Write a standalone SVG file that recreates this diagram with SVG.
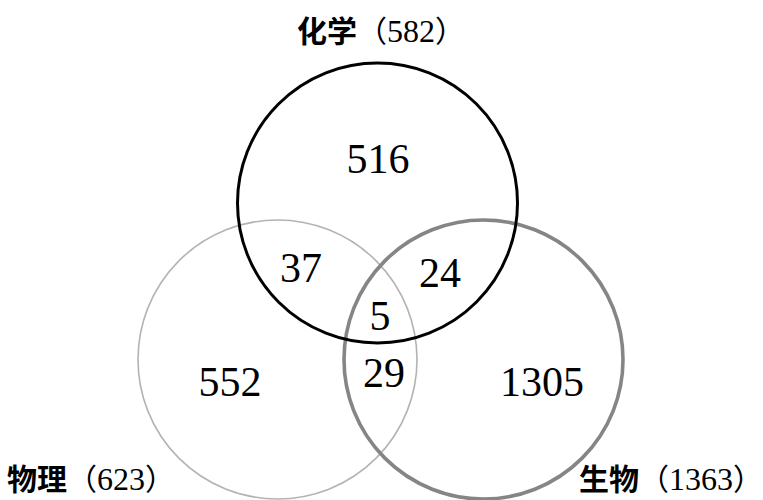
<svg xmlns="http://www.w3.org/2000/svg" width="763" height="500" viewBox="0 0 763 500">
<style>
.c{fill:none}
.n{font-family:"Liberation Serif","DejaVu Serif","Noto Serif",serif;font-size:42px;text-anchor:middle;fill:#000}
.lb{font-family:"Noto Sans CJK SC","Noto Sans",sans-serif;font-size:30px;fill:#000}
.h{font-weight:bold}
.d{font-family:"Liberation Serif","DejaVu Serif","Noto Serif",serif;font-size:32px}
</style>
<rect width="763" height="500" fill="#fff"/>
<g id="physics"><circle class="c" cx="277.5" cy="359.5" r="139.5" stroke="#b3b3b3" stroke-width="1.6"/></g>
<g id="biology"><circle class="c" cx="483.5" cy="359.5" r="139.5" stroke="#858585" stroke-width="3.6"/></g>
<g id="chemistry"><circle class="c" cx="377.5" cy="203" r="140" stroke="#000" stroke-width="3"/></g>
<g id="connectors"></g>
<g id="counts">
<text class="n" x="378" y="173" font-family="Liberation Serif">516</text>
<text class="n" x="301" y="282" font-family="Liberation Serif">37</text>
<text class="n" x="440" y="287" font-family="Liberation Serif">24</text>
<text class="n" x="380" y="330" font-family="Liberation Serif">5</text>
<text class="n" x="230" y="396" font-family="Liberation Serif">552</text>
<text class="n" x="384" y="387" font-family="Liberation Serif">29</text>
<text class="n" x="542" y="396" font-family="Liberation Serif">1305</text>
</g>
<g id="labels">
<text class="lb" x="297" y="42"><tspan class="h">化学</tspan>（<tspan class="d">582</tspan>）</text>
<text class="lb" x="7" y="490"><tspan class="h">物理</tspan>（<tspan class="d">623</tspan>）</text>
<text class="lb" x="579" y="490"><tspan class="h">生物</tspan>（<tspan class="d">1363</tspan>）</text>
</g>
</svg>
